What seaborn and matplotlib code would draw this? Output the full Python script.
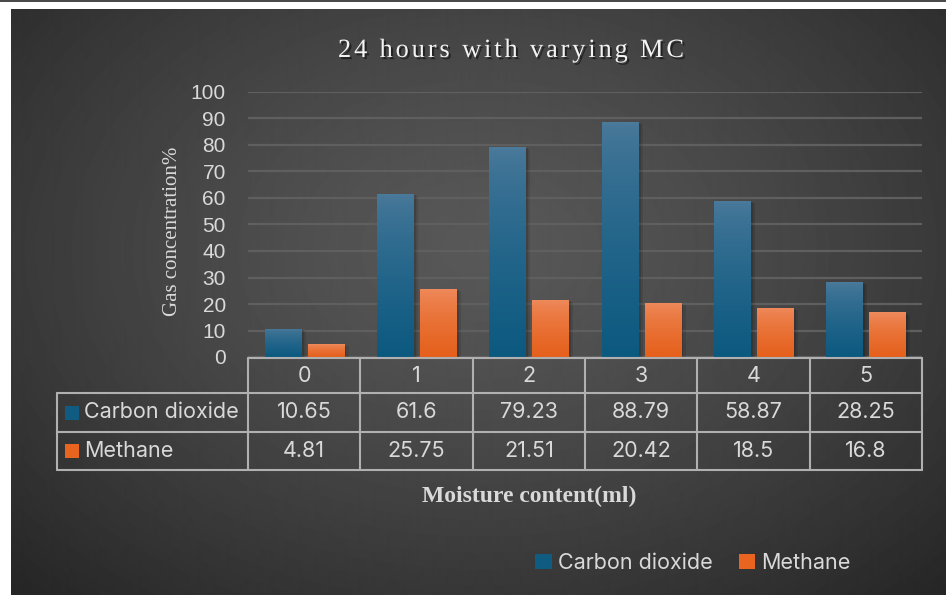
import numpy as np
import pandas as pd
import seaborn as sns
import matplotlib
matplotlib.use("Agg")
import matplotlib.pyplot as plt
import matplotlib.patheffects as pe
from matplotlib import transforms
from matplotlib.patches import Rectangle
from matplotlib.lines import Line2D
from matplotlib.font_manager import FontProperties

# ---- data ----
moisture = ["0", "1", "2", "3", "4", "5"]
carbon_dioxide = [10.65, 61.6, 79.23, 88.79, 58.87, 28.25]
methane = [4.81, 25.75, 21.51, 20.42, 18.5, 16.8]
series_names = ["Carbon dioxide", "Methane"]
y_ticks = [0, 10, 20, 30, 40, 50, 60, 70, 80, 90, 100]

title = "24 hours with varying MC"
x_label = "Moisture content(ml)"
y_label = "Gas concentration%"

df = pd.DataFrame({
    "mc": moisture * 2,
    "gas": [series_names[0]] * len(moisture) + [series_names[1]] * len(moisture),
    "value": carbon_dioxide + methane,
})

# ---- styling ----
W, H, DPI = 946, 595, 100
BLUE = "#0f5b82"
ORANGE = "#e9651f"
GRAD = {
    "blue": ("#4b7a9b", "#0c5980"),
    "orange": ("#ef8c5f", "#e5601b"),
}
TXT = "#d9d9d9"
LINE = "#b0b0b0"
SANS = ["Inter", "Liberation Sans", "DejaVu Sans"]
TICKS = ["Liberation Sans", "DejaVu Sans"]
SERIF = ["Liberation Serif", "DejaVu Serif"]
FS = 15.5

sns.set_theme(style="dark")
plt.rcParams["font.family"] = SANS

fig = plt.figure(figsize=(W / DPI, H / DPI), dpi=DPI)
fig.patch.set_facecolor("white")


def fy(py):
    return 1 - py / H


def fx(px):
    return px / W


# dark radial-gradient panel
bg = fig.add_axes([fx(11), 0, fx(W - 11), (H - 9) / H])
bg.set_axis_off()
yy, xx = np.mgrid[9:H, 11:W]
r = np.sqrt(((xx - 480) / 600.0) ** 2 + ((yy - 250) / 420.0) ** 2)
v = 88 - 50 * np.clip(r / 1.12, 0, 1) ** 1.3
bg.imshow(v, cmap="gray", vmin=0, vmax=255, aspect="auto", interpolation="bilinear")
fig.add_artist(Rectangle((0, fy(2)), 1, 2 / H, transform=fig.transFigure,
                         color="#4a4a4a", lw=0))

# ---- bars ----
ax = fig.add_axes([fx(248), fy(357), fx(922 - 248), (357 - 92) / H])
ax.patch.set_alpha(0)
sns.barplot(data=df, x="mc", y="value", hue="gas", palette=[BLUE, ORANGE],
            width=0.764, gap=0.16, errorbar=None, saturation=1, ax=ax,
            linewidth=0, zorder=3)
handles, labels = ax.get_legend_handles_labels()
if ax.get_legend() is not None:
    ax.get_legend().remove()

for patch in list(ax.patches):
    h = patch.get_height()
    if not np.isfinite(h) or h <= 0:
        continue
    x0, y0, w = patch.get_x(), patch.get_y(), patch.get_width()
    fc = matplotlib.colors.to_hex(patch.get_facecolor())
    top, bot = GRAD["blue"] if fc == matplotlib.colors.to_hex(BLUE) else GRAD["orange"]
    c1 = np.array(matplotlib.colors.to_rgb(top))
    c2 = np.array(matplotlib.colors.to_rgb(bot))
    t = np.linspace(0, 1, 64) ** 0.7
    grad = (c1[None, :] * (1 - t[:, None]) + c2[None, :] * t[:, None])[:, None, :]
    patch.set_path_effects([
        pe.SimplePatchShadow(offset=(3.5, -1.5), shadow_rgbFace="black", alpha=0.10),
        pe.SimplePatchShadow(offset=(2, -1), shadow_rgbFace="black", alpha=0.14),
        pe.Normal()])
    im = ax.imshow(grad, extent=[x0, x0 + w, y0, y0 + h], aspect="auto",
                   origin="upper", zorder=3.5, interpolation="bilinear")
    im.set_clip_path(patch)

ax.set_xlim(-0.5, len(moisture) - 0.5)
ax.set_ylim(0, 100)
ax.set_yticks(y_ticks)
ax.yaxis.grid(True, color="#5f5f5f", lw=1.6)
ax.xaxis.grid(False)
ax.set_axisbelow(True)
for s in ax.spines.values():
    s.set_visible(False)
ax.tick_params(axis="y", length=0, pad=16, labelsize=15, labelcolor=TXT)
for lab in ax.get_yticklabels():
    lab.set_family(TICKS)
ax.tick_params(axis="x", bottom=False, labelbottom=False)
ax.set_xlabel("")
ax.set_ylabel("")

# ---- data table under the bars ----
trans = transforms.blended_transform_factory(ax.transData, fig.transFigure)
x_right = ax.get_position().x1
lkw = dict(color=LINE, lw=1.5, zorder=5)
y_top, y_r0, y_r1, y_r2 = 358, 393, 432, 470
fig.add_artist(Line2D([fx(248), x_right], [fy(y_top)] * 2, transform=fig.transFigure, **lkw))
for yl in (y_r0, y_r1, y_r2):
    fig.add_artist(Line2D([fx(57), x_right], [fy(yl)] * 2, transform=fig.transFigure, **lkw))
fig.add_artist(Line2D([fx(57)] * 2, [fy(y_r0), fy(y_r2)], transform=fig.transFigure, **lkw))
for i in range(len(moisture) + 1):
    fig.add_artist(Line2D([i - 0.5] * 2, [fy(y_top), fy(y_r2)], transform=trans, **lkw))

for i, m in enumerate(moisture):
    fig.text(i, fy(376), m, transform=trans, ha="center", va="center",
             fontsize=FS, color=TXT)
    fig.text(i, fy(412.5), f"{carbon_dioxide[i]:g}", transform=trans, ha="center",
             va="center", fontsize=FS, color=TXT)
    fig.text(i, fy(451), f"{methane[i]:g}", transform=trans, ha="center",
             va="center", fontsize=FS, color=TXT)

for name, col, yc in ((series_names[0], BLUE, 412.5), (series_names[1], ORANGE, 451)):
    fig.add_artist(Rectangle((fx(65), fy(yc + 7)), fx(14), 14 / H,
                             transform=fig.transFigure, color=col, lw=0))
    fig.text(fx(84), fy(yc), name, ha="left", va="center", fontsize=FS, color=TXT)

# ---- titles ----
fig.text(fx(172), fy(231), y_label, rotation=90, ha="center", va="center",
         family=SERIF, fontsize=15, color=TXT)
fig.text(fx(529), fy(496), x_label, ha="center", va="center", family=SERIF,
         fontweight="bold", fontsize=17, color=TXT)

# tracked title, laid out glyph by glyph
renderer = fig.canvas.get_renderer()
fp = FontProperties(family=SERIF, size=19)
widths = [renderer.get_text_width_height_descent(ch, fp, ismath=False)[0] for ch in title]
target_w = 346.0
extra = (target_w - sum(widths)) / (len(title) - 1)
xpos = 511 - target_w / 2
shadow = [pe.withSimplePatchShadow(offset=(1.5, -1.5), shadow_rgbFace="black", alpha=0.5)]
for ch, wch in zip(title, widths):
    fig.text(fx(xpos), fy(51), ch, ha="left", va="center", fontproperties=fp,
             color="#f2f2f2", path_effects=shadow)
    xpos += wch + extra

# ---- legend ----
fig.legend(handles, labels, loc="center", bbox_to_anchor=(fx(693), fy(563)), ncol=2,
           frameon=False, fontsize=FS, labelcolor=TXT, handlelength=0.75,
           handleheight=0.75, handletextpad=0.3, columnspacing=1.2)

fig.savefig("out.png", dpi=DPI, facecolor=fig.get_facecolor())
